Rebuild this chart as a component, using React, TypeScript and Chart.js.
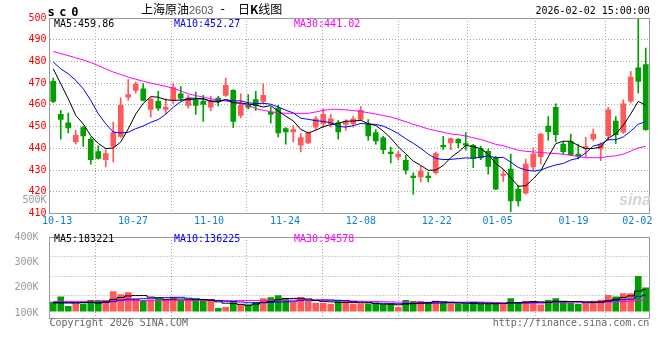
import React, { useEffect, useRef } from 'react';
import { Chart, registerables } from 'chart.js';

Chart.register(...registerables);

// ---------------- data ----------------
const dates = [
  '10-10','10-13','10-14','10-15','10-16','10-17','10-20','10-21','10-22','10-23','10-24','10-27','10-28','10-29','10-30','10-31',
  '11-03','11-04','11-05','11-06','11-07','11-10','11-11','11-12','11-13','11-14','11-17','11-18','11-19','11-20','11-21','11-24','11-25','11-26','11-27','11-28',
  '12-01','12-02','12-03','12-04','12-05','12-08','12-09','12-10','12-11','12-12','12-15','12-16','12-17','12-18','12-19','12-22','12-23','12-24','12-25','12-26','12-29','12-30','12-31',
  '01-05','01-06','01-07','01-08','01-09','01-12','01-13','01-14','01-15','01-16','01-19','01-20','01-21','01-22','01-23','01-26','01-27','01-28','01-29','01-30',
  '02-02',
];

const opens = [
  470.8, 455.6, 451.7, 442.9, 449.5, 444.2, 438.5, 434.8, 440.9, 445.5,
  463.6, 466.7, 467.4, 457.9, 461.6, 457.9, 462.1, 465.1, 459.8, 462.1,
  461.6, 459.0, 463.1, 464.4, 466.7, 455.2, 459.8, 462.5, 461.6, 456.7,
  458.5, 449.1, 447.5, 441.4, 442.5, 449.8, 451.3, 451.3, 451.8, 451.0,
  451.3, 453.3, 451.3, 447.2, 444.8, 437.9, 436.0, 434.5, 427.2, 426.8,
  426.8, 428.8, 441.4, 442.5, 444.2, 442.2, 441.4, 439.9, 438.6, 435.7,
  427.5, 430.5, 421.2, 419.4, 431.5, 436.2, 450.2, 458.9, 442.0, 443.1,
  437.4, 439.7, 444.3, 439.7, 445.8, 452.5, 447.4, 461.7, 477.1, 478.5,
];
const highs = [
  472.3, 457.5, 456.2, 448.3, 450.1, 445.2, 441.2, 439.4, 452.1, 463.3,
  471.6, 470.5, 469.8, 463.3, 466.2, 462.8, 470.0, 468.5, 464.4, 465.9,
  464.4, 463.9, 463.9, 472.3, 467.1, 465.1, 464.8, 466.2, 469.7, 459.0,
  459.8, 449.5, 450.6, 446.8, 447.5, 454.7, 458.2, 455.6, 452.9, 453.2,
  454.7, 459.3, 453.2, 448.6, 445.5, 440.6, 438.6, 436.8, 428.7, 431.7,
  429.1, 438.3, 445.5, 444.8, 444.5, 447.2, 441.9, 440.9, 439.6, 436.3,
  430.2, 437.4, 422.8, 435.1, 440.2, 446.8, 454.6, 460.5, 443.1, 446.6,
  442.0, 445.1, 448.9, 442.5, 458.9, 454.6, 462.3, 475.5, 499.5, 486.2,
];
const lows = [
  461.0, 444.2, 447.1, 442.0, 440.9, 432.7, 435.0, 431.4, 433.7, 444.9,
  462.1, 465.4, 461.8, 454.4, 457.5, 455.9, 460.5, 462.1, 458.5, 455.6,
  452.4, 457.2, 459.5, 463.9, 449.5, 454.0, 458.2, 457.5, 460.5, 451.7,
  445.2, 441.9, 442.9, 438.3, 442.2, 448.6, 449.5, 449.8, 444.2, 448.3,
  449.8, 452.9, 443.7, 441.9, 437.6, 433.3, 434.5, 428.1, 418.9, 424.5,
  424.5, 428.1, 439.4, 439.4, 440.3, 439.1, 431.1, 434.8, 428.1, 421.0,
  424.8, 410.8, 413.5, 418.9, 429.7, 432.8, 443.8, 443.1, 437.4, 436.6,
  435.1, 435.8, 443.5, 434.3, 443.8, 442.3, 446.9, 460.9, 465.5, 448.3,
];
const closes = [
  461.6, 453.3, 449.4, 446.0, 445.7, 434.8, 435.4, 437.6, 447.2, 459.8,
  464.8, 469.6, 462.1, 462.7, 458.5, 459.0, 468.0, 463.1, 463.3, 459.8,
  460.2, 461.6, 461.6, 469.0, 452.4, 459.8, 459.0, 459.5, 464.4, 455.6,
  447.1, 447.5, 448.6, 444.9, 447.1, 453.6, 455.6, 453.6, 447.5, 452.4,
  453.6, 457.5, 445.7, 443.4, 439.4, 437.6, 437.3, 429.9, 426.5, 429.4,
  426.5, 437.6, 440.6, 444.5, 442.5, 441.4, 435.3, 435.6, 431.7, 421.2,
  428.2, 415.8, 415.8, 432.8, 437.4, 446.6, 447.7, 446.3, 438.5, 437.1,
  436.6, 440.8, 446.6, 442.0, 457.7, 446.3, 460.5, 472.8, 470.8, 448.6,
];
const volumes = [
  77200, 121200, 41500, 60600, 60600, 91300, 91300, 91300, 166000, 141100,
  157700, 107900, 91300, 99600, 104600, 99600, 118700, 91300, 91300, 91300,
  99600, 91300, 24900, 33200, 77200, 60600, 54800, 74700, 107900, 116200,
  132800, 107900, 77200, 116200, 83000, 68900, 68900, 60600, 91300, 83000,
  60600, 60600, 60600, 60600, 54800, 60600, 33200, 91300, 83000, 83000,
  74700, 83000, 74700, 60600, 60600, 60600, 74700, 60600, 60600, 60600,
  68900, 107900, 66400, 83000, 83000, 54800, 91300, 107900, 83000, 68900,
  58100, 72200, 85500, 93800, 135300, 122000, 149400, 149400, 296300, 199200,
];

// moving-average values before enough bars exist in the window
const ma5Lead = [476.6, 469.7, 462.8, 455.2];
const ma10Lead = [479.7, 476.6, 474.3, 471.3, 467.4, 462.1, 455.9, 451.3, 447.5];
const ma30Lead = [
  484.6, 483.6, 482.7, 481.7, 480.7, 479.5, 478.1, 476.6, 475.1, 474.0,
  472.8, 471.8, 470.9, 470.0, 469.3, 468.5, 467.7, 466.4, 465.1, 464.3,
  463.6, 462.8, 462.3, 461.8, 461.3, 460.5, 459.8, 458.3, 457.5,
];
const volMa5Lead = [70000, 70000, 69000, 68000];
const volMa10Lead = [75000, 75000, 75000, 74000, 74000, 74000, 74000, 75000, 82000];
const volMa30Lead = [
  83000, 83000, 83000, 83000, 83000, 84000, 84000, 85000, 88000, 89000,
  90000, 90000, 90000, 90000, 90000, 90000, 91000, 91000, 91000, 91000,
  91000, 91000, 90000, 90000, 90000, 90000, 90000, 90000, 91000,
];

const dateTickLabels = ['10-13', '10-27', '11-10', '11-24', '12-08', '12-22', '01-05', '01-19', '02-02'];
const priceMin = 410;
const priceMax = 500;
const priceStep = 10;
const volTickValues = [100000, 200000, 300000, 400000];
const volTickLabels = ['100K', '200K', '300K', '400K'];
const volGridLines = [1, 2, 3];

const priceLegend = ['MA5:459.86', 'MA10:452.27', 'MA30:441.02'];
const volLegend = ['MA5:183221', 'MA10:136225', 'MA30:94578'];

// ---------------- styles ----------------
const UP = '#ff5a5a';
const DOWN = '#00a000';
const GRID = '#a8a8a8';
const MONO = '"DejaVu Sans Mono", monospace';
const CJK = '"Noto Sans CJK SC", sans-serif';
const MA_COLORS = ['#000000', '#0000ff', '#ff00ff'];

function movingAverage(values: number[], n: number, lead: number[]): number[] {
  return values.map((_, i) => {
    if (i < n - 1) return lead[i];
    let s = 0;
    for (let k = i - n + 1; k <= i; k++) s += values[k];
    return s / n;
  });
}

const candleColors = opens.map((o, i) => (closes[i] >= o ? UP : DOWN));
const lastIdx = dates.length - 1;
// the last date label is pulled inside the panel, as in the original
const gridTickValues = dateTickLabels.map((l) => Math.min(dates.indexOf(l), lastIdx - 1.6));

const borderPlugin = {
  id: 'panelBorder',
  afterDraw(chart: any) {
    const { ctx, chartArea: a } = chart;
    const l = Math.floor(a.left) + 0.5;
    const t = Math.floor(a.top) + 0.5;
    const r = Math.floor(a.right) + 0.5;
    const b = Math.floor(a.bottom) + 0.5;
    ctx.save();
    ctx.strokeStyle = '#999999';
    ctx.lineWidth = 1;
    ctx.strokeRect(l, t, r - l, b - t);
    ctx.restore();
  },
};

function gridXAxis(showLabels: boolean, height: number) {
  return {
    type: 'linear',
    position: 'bottom',
    min: 0,
    max: lastIdx,
    bounds: 'data',
    offset: false,
    afterBuildTicks: (s: any) => {
      s.ticks = gridTickValues.map((v) => ({ value: v }));
    },
    afterFit: (s: any) => {
      s.height = height;
    },
    ticks: {
      display: showLabels,
      autoSkip: false,
      maxRotation: 0,
      padding: 2,
      color: '#0a7fd5',
      font: { family: MONO, size: 10 },
      callback: (_v: any, i: number) => dateTickLabels[i],
    },
    grid: { color: GRID, drawTicks: false, lineWidth: 1 },
    border: { display: false, dash: [1, 2] },
  };
}

function lineDs(data: number[], color: string, yAxisID: string, stepped: any) {
  return {
    type: 'line',
    data,
    borderColor: color,
    backgroundColor: color,
    borderWidth: 1,
    pointRadius: 0,
    tension: 0,
    stepped,
    xAxisID: 'x',
    yAxisID,
    order: 1,
  };
}

const Txt = (p: any) => {
  const lh = p.lh || 12;
  return (
    <span
      style={{
        position: 'absolute',
        left: p.x,
        top: p.cy - lh / 2,
        fontSize: p.size || 10,
        lineHeight: lh + 'px',
        fontFamily: p.font || MONO,
        color: p.color || '#000',
        fontWeight: p.weight || 'normal',
        fontStyle: p.italic ? 'italic' : 'normal',
        letterSpacing: p.ls || 0,
        whiteSpace: 'nowrap',
      }}
    >
      {p.children}
    </span>
  );
};

export default function App() {
  const priceRef = useRef<HTMLCanvasElement | null>(null);
  const volRef = useRef<HTMLCanvasElement | null>(null);

  useEffect(() => {
    const ma5 = movingAverage(closes, 5, ma5Lead);
    const ma10 = movingAverage(closes, 10, ma10Lead);
    const ma30 = movingAverage(closes, 30, ma30Lead);
    const vma5 = movingAverage(volumes, 5, volMa5Lead);
    const vma10 = movingAverage(volumes, 10, volMa10Lead);
    const vma30 = movingAverage(volumes, 30, volMa30Lead);

    const wickData = lows.map((l, i) => [l, highs[i]]);
    const bodyData = opens.map((o, i) => [Math.min(o, closes[i]), Math.max(o, closes[i])]);

    const price = new Chart(priceRef.current as HTMLCanvasElement, {
      type: 'bar',
      data: {
        labels: dates,
        datasets: [
          { type: 'bar', data: wickData, backgroundColor: candleColors, barThickness: 1, grouped: false, xAxisID: 'x', yAxisID: 'y', order: 3 },
          { type: 'bar', data: bodyData, backgroundColor: candleColors, barThickness: 5, minBarLength: 1.5, grouped: false, xAxisID: 'x', yAxisID: 'y', order: 2 },
          lineDs(ma5, MA_COLORS[0], 'y', false),
          lineDs(ma10, MA_COLORS[1], 'y', false),
          lineDs(ma30, MA_COLORS[2], 'y', false),
        ] as any,
      },
      options: {
        responsive: false,
        animation: false,
        events: [],
        layout: { padding: { top: 18, right: 10.5, left: 0, bottom: 0 } },
        plugins: { legend: { display: false }, tooltip: { enabled: false }, title: { display: false } },
        scales: {
          x: { type: 'category', display: false, offset: true },
          xg: gridXAxis(true, 16.5) as any,
          y: {
            type: 'linear',
            position: 'left',
            min: priceMin,
            max: priceMax,
            afterFit: (s: any) => {
              s.width = 49.5;
            },
            ticks: {
              stepSize: priceStep,
              color: '#ff0000',
              padding: 3,
              font: { family: MONO, size: 10 },
            },
            grid: {
              drawTicks: false,
              color: (c: any) => (c.tick && (c.tick.value === priceMin || c.tick.value === priceMax) ? 'rgba(0,0,0,0)' : GRID),
            },
            border: { display: false, dash: [1, 2] },
          },
        },
      } as any,
      plugins: [borderPlugin],
    });

    const vol = new Chart(volRef.current as HTMLCanvasElement, {
      type: 'bar',
      data: {
        labels: dates,
        datasets: [
          { type: 'bar', data: volumes, backgroundColor: candleColors, barThickness: 6, grouped: false, xAxisID: 'x', yAxisID: 'yv', order: 2 },
          lineDs(vma5, MA_COLORS[0], 'yv', 'middle'),
          lineDs(vma10, MA_COLORS[1], 'yv', 'middle'),
          lineDs(vma30, MA_COLORS[2], 'yv', 'middle'),
        ] as any,
      },
      options: {
        responsive: false,
        animation: false,
        events: [],
        layout: { padding: { top: 7, right: 10.5, left: 0, bottom: 42 } },
        plugins: { legend: { display: false }, tooltip: { enabled: false }, title: { display: false } },
        scales: {
          x: { type: 'category', display: false, offset: true },
          xg: gridXAxis(false, 0) as any,
          yv: { type: 'linear', display: false, min: -58100, max: 630800 },
          yvl: {
            type: 'linear',
            position: 'left',
            min: 80000,
            max: 400000,
            afterBuildTicks: (s: any) => {
              s.ticks = volTickValues.map((v) => ({ value: v }));
            },
            afterFit: (s: any) => {
              s.width = 49.5;
            },
            ticks: {
              color: '#999999',
              padding: 3,
              font: { family: MONO, size: 10 },
              callback: (_v: any, i: number) => volTickLabels[i],
            },
            grid: { display: false },
            border: { display: false },
          },
          yg: {
            type: 'linear',
            position: 'right',
            min: -0.15,
            max: 4,
            afterBuildTicks: (s: any) => {
              s.ticks = volGridLines.map((v) => ({ value: v }));
            },
            afterFit: (s: any) => {
              s.width = 0;
            },
            ticks: { display: false },
            grid: { color: GRID, drawTicks: false },
            border: { display: false, dash: [1, 2] },
          },
        },
      } as any,
      plugins: [borderPlugin],
    });

    return () => {
      price.destroy();
      vol.destroy();
    };
  }, []);

  return (
    <div style={{ position: 'absolute', left: 0, top: 0, width: 660, height: 360, background: '#fff', overflow: 'hidden' }}>
      <canvas ref={priceRef} width={660} height={230} style={{ position: 'absolute', left: 0, top: 0 }} />
      <canvas ref={volRef} width={660} height={132} style={{ position: 'absolute', left: 0, top: 228 }} />

      <Txt x={47.5} cy={11.8} size={12} weight="bold" ls={4.6}>sc0</Txt>
      <Txt x={141} cy={9.3} size={12} font={CJK}>上海原油</Txt>
      <Txt x={189} cy={10} size={11} font={'"Liberation Sans", sans-serif'} color="#555">2603</Txt>
      <Txt x={220.5} cy={9.3} size={12} font={'"DejaVu Sans", sans-serif'}>-</Txt>
      <Txt x={238} cy={9.3} size={12} font={CJK}>
        日<span style={{ fontWeight: 'bold' }}>K</span>线图
      </Txt>
      <Txt x={535.5} cy={11.2}>2026-02-02 15:00:00</Txt>

      <Txt x={54} cy={23.7} color={MA_COLORS[0]}>{priceLegend[0]}</Txt>
      <Txt x={174} cy={23.7} color={MA_COLORS[1]}>{priceLegend[1]}</Txt>
      <Txt x={294} cy={23.7} color={MA_COLORS[2]}>{priceLegend[2]}</Txt>

      <Txt x={22.5} cy={200.3} color="#999">500K</Txt>
      <Txt x={619} cy={200} size={16} weight="bold" italic font={'"Liberation Sans", sans-serif'} color="#d4d4d4">sina</Txt>

      <Txt x={54} cy={238.7} color={MA_COLORS[0]}>{volLegend[0]}</Txt>
      <Txt x={174} cy={238.7} color={MA_COLORS[1]}>{volLegend[1]}</Txt>
      <Txt x={294} cy={238.7} color={MA_COLORS[2]}>{volLegend[2]}</Txt>

      <Txt x={49.5} cy={322.7} color="#666">Copyright 2026 SINA.COM</Txt>
      <Txt x={492.8} cy={322.7} color="#666">http://finance.sina.com.cn</Txt>
    </div>
  );
}
